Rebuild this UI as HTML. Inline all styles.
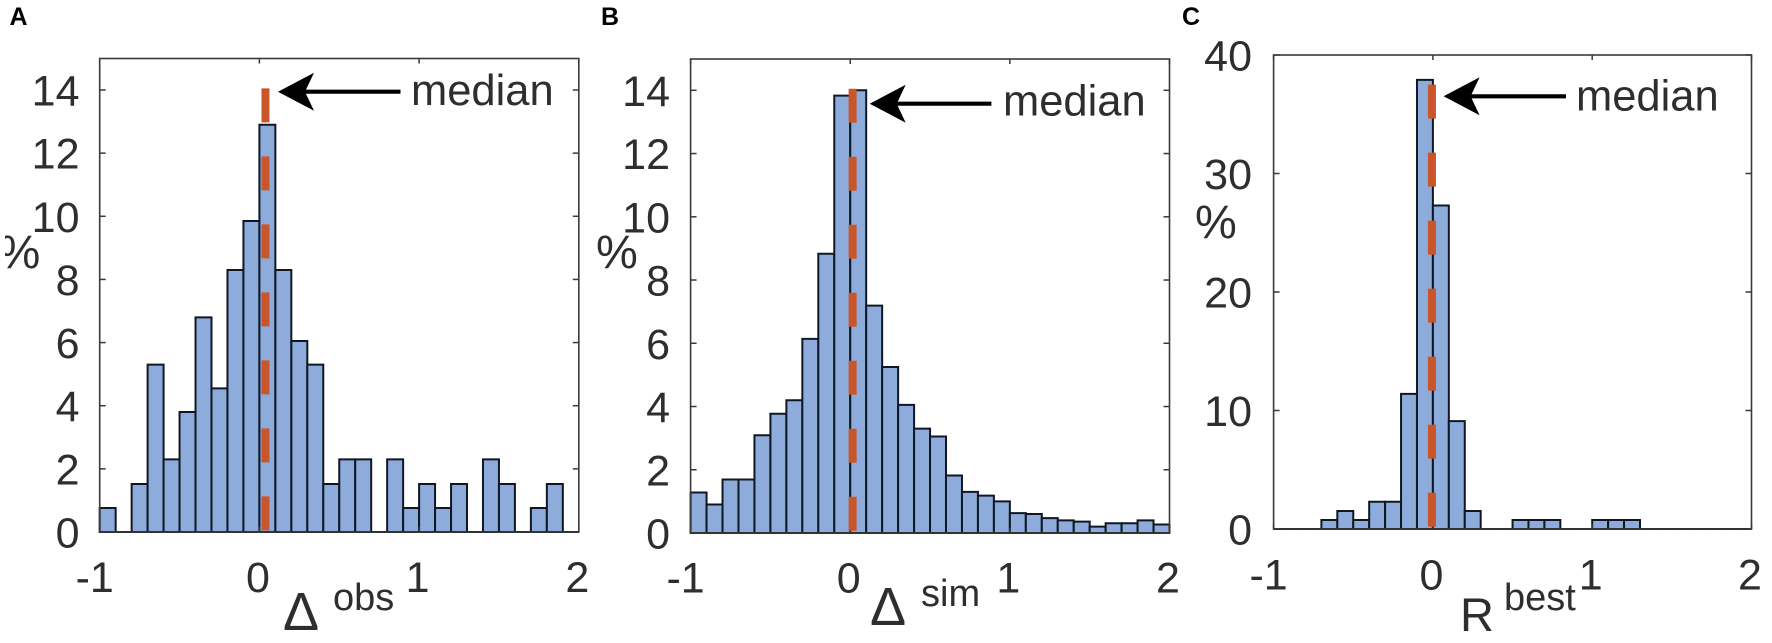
<!DOCTYPE html>
<html lang="en">
<head>
<meta charset="utf-8">
<title>Histograms of Δ obs, Δ sim and R best</title>
<style>
html,body{margin:0;padding:0;background:#fff;width:1772px;height:643px;overflow:hidden}
svg{display:block;font-family:"Liberation Sans",Arial,sans-serif}
</style>
</head>
<body>
<svg id="figure" xmlns="http://www.w3.org/2000/svg" width="1772" height="643" viewBox="0 0 1772 643">
  <rect x="0" y="0" width="1772" height="643" fill="#fff"/>
</svg>
<script>
// ---- chart data ----
const binStart = -1;
const binWidth = 0.1;
const xTickValues = [-1, 0, 1, 2];
const xTickLabels = ["-1", "0", "1", "2"];
const yTicksAB = [0, 2, 4, 6, 8, 10, 12, 14];
const yTicksC = [0, 10, 20, 30, 40];

const valuesA = [0.76,0,1.52,5.3,2.3,3.8,6.8,4.55,8.3,9.85,12.9,8.3,6.05,5.3,1.52,2.3,2.3,0,2.3,0.76,1.52,0.76,1.52,0,2.3,1.52,0,0.76,1.52,0];
const valuesB = [1.28,0.9,1.69,1.69,3.09,3.77,4.2,6.14,8.83,13.83,14,7.19,5.25,4.05,3.3,3.05,1.82,1.3,1.18,1,0.63,0.6,0.47,0.4,0.36,0.2,0.31,0.31,0.4,0.27];
const valuesC = [0,0,0,0.76,1.52,0.76,2.3,2.3,11.4,37.9,27.3,9.1,1.52,0,0,0.76,0.76,0.76,0,0,0.76,0.76,0.76,0,0,0,0,0,0,0];

const medianA = 0.038;
const medianB = 0.015;
const medianC = -0.006;
const medianTopA = 14.05;
const medianTopB = 14.05;
const medianTopC = 37.5;

// ---- layout ----
const svg = document.getElementById('figure');
const NS = 'http://www.w3.org/2000/svg';
const INK = '#2e2e2e';

function make(tag, attrs, parent) {
  const el = document.createElementNS(NS, tag);
  for (const k in attrs) el.setAttribute(k, attrs[k]);
  (parent || svg).appendChild(el);
  return el;
}

function drawPanel(p) {
  const x = v => p.left + (v - (-1)) * (p.right - p.left) / 3;
  const y = v => p.bottom - (v / p.yUnitMax) * (p.bottom - p.yAtMax);

  const g = make('g', {});
  
  

  // bars
  p.values.forEach((val, i) => {
    const x0 = x(binStart + i * binWidth);
    const x1 = x(binStart + (i + 1) * binWidth);
    const bar = make('path', {
      d: 'M' + x0 + ' ' + p.bottom + 'V' + y(val) + 'H' + x1 + 'V' + p.bottom + 'Z',
      fill: '#8dacdc', stroke: '#101722', 'stroke-width': 2
    }, g);
    
    
  });

  // axes box
  const box = make('rect', {
    x: p.left, y: p.top, width: p.right - p.left, height: p.bottom - p.top,
    fill: 'none', stroke: '#3a3a3a', 'stroke-width': 1.6
  }, g);
  
  

  // x ticks
  xTickValues.forEach((v, i) => {
    const tk = make('line', { x1: x(v), x2: x(v), y1: p.top, y2: p.top + 5, stroke: '#3a3a3a', 'stroke-width': 1.5 }, g);
    
    
    const tk2 = make('line', { x1: x(v), x2: x(v), y1: p.bottom, y2: p.bottom - 5, stroke: '#3a3a3a', 'stroke-width': 1.5 }, g);
    
    
    const off = v === -1 ? -5 : -1.5;
    const t = make('text', { x: x(v) + off, y: p.xLabelY, 'text-anchor': 'middle', 'font-size': 43, fill: INK }, g);
    t.textContent = xTickLabels[i];
    
    
  });

  // y ticks
  p.yTicks.forEach(v => {
    const tk = make('line', { x1: p.left, x2: p.left + 6, y1: y(v), y2: y(v), stroke: '#3a3a3a', 'stroke-width': 1.5 }, g);
    
    
    const tk2 = make('line', { x1: p.right, x2: p.right - 6, y1: y(v), y2: y(v), stroke: '#3a3a3a', 'stroke-width': 1.5 }, g);
    
    
    const t = make('text', { x: p.yLabelX, y: y(v) + 15.5, 'text-anchor': 'end', 'font-size': 43, fill: INK }, g);
    t.textContent = String(v);
    
    
  });

  // median line
  const med = make('line', {
    x1: x(p.median), x2: x(p.median), y1: y(p.medianTop), y2: p.bottom,
    stroke: '#c8562a', 'stroke-width': 8, 'stroke-dasharray': '34 34'
  }, g);
  
  

  // arrow
  const a = p.arrow;
  const shaft = make('line', { x1: a.tip + 20, x2: a.end, y1: a.y, y2: a.y, stroke: '#000', 'stroke-width': 4.2 }, g);
  
  
  const head = make('path', {
    d: 'M' + a.tip + ' ' + a.y + 'L' + (a.tip + 36) + ' ' + (a.y - 19) + 'L' + (a.tip + 27) + ' ' + a.y + 'L' + (a.tip + 36) + ' ' + (a.y + 19) + 'Z',
    fill: '#000'
  }, g);
  
  

  const mt = make('text', { x: p.medianLabelX, y: p.medianLabelY, 'font-size': 43.5, fill: INK }, g);
  mt.textContent = 'median';
  
  

  // y axis title
  const pc = make('text', { x: p.pctX, y: p.pctY, 'font-size': 47, fill: INK }, g);
  pc.textContent = '%';
  
  

  // x axis title
  const sym = make('text', { x: p.symX, y: p.symY, 'font-size': p.symSize, fill: INK }, g);
  sym.textContent = p.sym;
  
  
  const sup = make('text', { x: p.supX, y: p.supY, 'font-size': 38, fill: INK }, g);
  sup.textContent = p.sup;
  
  

  // panel letter
  const letter = make('text', { x: p.letterX, y: 25, 'font-size': 25, 'font-weight': 'bold', fill: '#000' }, g);
  letter.textContent = p.letter;
  
  
}

drawPanel({
  key: 'a', letter: 'A', letterX: 9.5, values: valuesA, median: medianA, medianTop: medianTopA,
  left: 99.7, right: 578.8, top: 58.5, bottom: 532, yAtMax: 90, yUnitMax: 14, yTicks: yTicksAB,
  yLabelX: 79.5, xLabelY: 592,
  arrow: { tip: 278, y: 91.7, end: 400.5 },
  medianLabelX: 411, medianLabelY: 105,
  pctX: -1.5, pctY: 268, sym: 'Δ', symX: 283, symY: 630, symSize: 54, sup: 'obs', supX: 333, supY: 610
});
drawPanel({
  key: 'b', letter: 'B', letterX: 601, values: valuesB, median: medianB, medianTop: medianTopB,
  left: 690.6, right: 1169.5, top: 59, bottom: 533, yAtMax: 90.3, yUnitMax: 14, yTicks: yTicksAB,
  yLabelX: 670, xLabelY: 592.5,
  arrow: { tip: 869.7, y: 103.7, end: 991.4 },
  medianLabelX: 1003, medianLabelY: 115.5,
  pctX: 596, pctY: 268, sym: 'Δ', symX: 870, symY: 625, symSize: 54, sup: 'sim', supX: 921, supY: 606
});
drawPanel({
  key: 'c', letter: 'C', letterX: 1182, values: valuesC, median: medianC, medianTop: medianTopC,
  left: 1273.6, right: 1751.5, top: 55, bottom: 529, yAtMax: 55, yUnitMax: 40, yTicks: yTicksC,
  yLabelX: 1252, xLabelY: 589.5,
  arrow: { tip: 1443.6, y: 96.3, end: 1566 },
  medianLabelX: 1576, medianLabelY: 110.5,
  pctX: 1195, pctY: 238, sym: 'R', symX: 1460, symY: 631, symSize: 47, sup: 'best', supX: 1504, supY: 610
});

// Panel A's "%" sign is cut off at the left edge in the source figure.
const clip = make('rect', { x: 0, y: 225, width: 5, height: 50, fill: '#fff' });


</script>
</body>
</html>
